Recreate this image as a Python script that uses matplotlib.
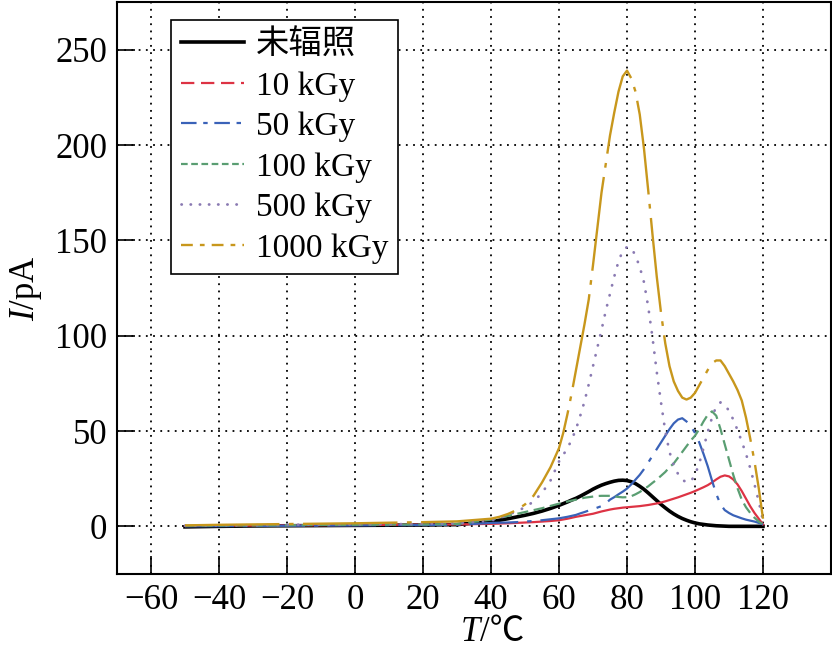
import matplotlib
matplotlib.use("Agg")
import matplotlib.pyplot as plt
from matplotlib.lines import Line2D

plt.rcParams['font.family'] = ['Liberation Serif', 'Noto Sans CJK SC', 'DejaVu Sans']
plt.rcParams['mathtext.fontset'] = 'custom'
plt.rcParams['mathtext.rm'] = 'Liberation Serif'
plt.rcParams['mathtext.it'] = 'Liberation Serif:italic'

# temperature points (deg C)
temps = [-50, -40, -30, -20, -10, 0, 10, 20, 30, 40, 42.5, 45, 47.5, 50, 52.5, 55, 57.5,
         60, 61.25, 62.5, 63.75, 65, 66.25, 67.5, 68.75, 70, 71.25, 72.5, 73.75,
         75, 76.25, 77.5, 78.75, 80, 81.25, 82.5, 83.75, 85, 86.25, 87.5, 88.75,
         90, 91.25, 92.5, 93.75, 95, 96.25, 97.5, 98.75, 100, 101.25, 102.5, 103.75,
         105, 106.25, 107.5, 108.75, 110, 111.25, 112.5, 113.75, 115, 116.25, 117.5, 118.75, 120]

# current (pA) for each dose
i_0 = [-0.3, 0, 0.2, 0.3, 0.4, 0.5, 0.6, 0.7, 0.9, 2.5, 3.2, 4, 4.9, 5.8, 6.8, 8, 9.4,
       11, 11.9, 12.8, 13.8, 14.7, 15.8, 17, 18.2, 19.5, 20.6, 21.6, 22.4,
       23.1, 23.7, 24.1, 24.2, 24, 23.4, 22.4, 21, 19.4, 17.5, 15.5, 13.5,
       11.5, 9.7, 8, 6.5, 5.2, 4.1, 3.2, 2.4, 1.8, 1.3, 1, 0.7,
       0.5, 0.3, 0.2, 0.1, 0, 0, 0, 0, 0, 0, 0, 0, 0]
i_10 = [0.2, 0.3, 0.4, 0.5, 0.6, 0.7, 0.8, 0.9, 1.0, 1.3, 1.45, 1.6, 1.8, 2, 2.2, 2.5, 2.8,
        3.2, 3.6, 4, 4.5, 5, 5.4, 5.8, 6.2, 6.6, 7.2, 7.8, 8.3,
        8.8, 9.2, 9.5, 9.8, 10, 10.2, 10.4, 10.6, 10.9, 11.2, 11.6, 12,
        12.5, 13.1, 13.8, 14.5, 15.2, 16, 16.8, 17.6, 18.5, 19.5, 20.5, 21.6,
        23, 24.6, 26, 26.7, 26.2, 24.6, 22, 18.5, 14.5, 10.5, 7, 4, 1]
i_50 = [0, 0.1, 0.2, 0.3, 0.4, 0.5, 0.6, 0.7, 0.8, 1.8, 1.9, 2, 2.2, 2.5, 2.8, 3.2, 3.7,
        4.2, 4.6, 5, 5.5, 6, 6.8, 7.5, 8.3, 9, 9.8, 10.6, 12,
        14, 15.3, 16.8, 18.2, 19.8, 22, 24.5, 27, 30, 33.5, 37, 40.5,
        44, 47.5, 51, 54, 56, 56.7, 55, 52.5, 49, 44, 38, 31.5,
        24, 17, 11.5, 8.5, 7, 5.8, 5, 4.2, 3.5, 3, 2.5, 1.8, 1]
i_100 = [0.3, 0.4, 0.5, 0.6, 0.7, 0.8, 0.9, 1.0, 1.2, 3.5, 4.5, 5.5, 6.5, 7.5, 8.5, 9.5, 10.7,
         11.9, 12.5, 13, 13.5, 14, 14.5, 15, 15.3, 15.6, 15.9, 16, 16,
         16, 15.7, 15.4, 15.2, 15.3, 15.8, 16.8, 18, 19.5, 21, 22.8, 24.5,
         26.5, 28.5, 31, 33, 36, 39, 42, 45, 47.5, 51, 55, 58.5,
         60.3, 58, 51, 43, 35, 27, 20, 14, 10, 7, 4.5, 2.5, 1]
i_500 = [0.3, 0.5, 0.6, 0.8, 0.9, 1.0, 1.1, 1.3, 1.5, 3, 4.3, 6, 7.8, 10, 13, 17.5, 24,
         34, 37.5, 41, 45.5, 51, 58, 65.5, 74.5, 84, 93.5, 103, 113,
         122, 131, 139, 144.5, 146.5, 146, 142, 136, 128, 115, 99, 81,
         65, 50, 39, 32, 27.5, 24.5, 23, 23.5, 27, 33, 41, 49.5,
         57, 63, 65, 64, 60.5, 56, 50.5, 44.5, 38, 30.5, 22, 13, 3]
i_1000 = [0.5, 0.8, 1.0, 1.2, 1.4, 1.6, 1.9, 2.2, 2.6, 4, 5, 6.5, 8.5, 11.5, 16, 23, 31,
          41, 49, 59, 70, 82, 94, 106, 119, 137, 156, 175, 190,
          205, 217, 228, 236, 239, 235, 228, 216, 198, 176, 153, 131,
          112, 96, 84, 76, 71, 67.5, 66.5, 67.5, 70, 74, 78, 82,
          85.5, 87, 87, 84, 80, 76, 71.5, 66, 57, 46, 34, 20, 4]

labels = ['未辐照', '10 kGy', '50 kGy', '100 kGy', '500 kGy', '1000 kGy']
series = [i_0, i_10, i_50, i_100, i_500, i_1000]
colors = ['#000000', '#dd3344', '#3a62b8', '#5a9e72', '#8a7ab2', '#c8971c']
widths = [2.6, 1.6, 1.6, 1.6, 2.0, 1.7]
# styles of the plotted curves
curve_styles = ['-', '-', (0, (22, 4, 2, 4)), (0, (5, 2.5)), (0, (0.1, 3.6)), (0, (40, 4, 2, 4))]
# styles shown in the legend
legend_styles = ['-', (0, (6, 3)), (0, (7, 3, 2, 3)), (0, (3, 1.6)), (0, (0.1, 3.2)), (0, (5, 3, 2, 3))]

fig = plt.figure(figsize=(8.32, 6.57), dpi=100)
ax = fig.add_axes([117 / 832, 83 / 657, 714 / 832, 572 / 657])

handles = []
for y, c, lw, ls, lls, lab in zip(series, colors, widths, curve_styles, legend_styles, labels):
    cap = 'round' if c == '#8a7ab2' else 'butt'
    ax.plot(temps, y, color=c, lw=lw, ls=ls, dash_capstyle=cap, solid_joinstyle='round', zorder=3)
    handles.append(Line2D([], [], color=c, lw=lw, ls=lls, dash_capstyle=cap, label=lab))

ax.set_xlim(-70, 140)
ax.set_ylim(-25, 275)
ax.set_xticks(range(-60, 121, 20))
ax.set_yticks(range(0, 251, 50))
ax.grid(True, color='black', ls=(0, (1, 3)), lw=1.3)
ax.tick_params(direction='in', length=13, width=1.2, labelsize=25, pad=7)
for s in ax.spines.values():
    s.set_linewidth(1.5)

# x label: italic T followed by /℃
ax.text(0.508, -0.103, 'T', transform=ax.transAxes, ha='right', va='center',
        fontsize=25, style='italic')
ax.text(0.508, -0.103, '/℃', transform=ax.transAxes, ha='left', va='center',
        fontsize=25)
ax.set_ylabel(r'$I$/pA', fontsize=25, labelpad=8)

leg = ax.legend(handles=handles, loc='upper left', bbox_to_anchor=(0.0756, 0.9685),
                borderaxespad=0, fontsize=24, frameon=True, fancybox=False,
                edgecolor='black', handlelength=1.9, handletextpad=0.35,
                labelspacing=0.3, borderpad=0.3)
leg.get_frame().set_linewidth(1.2)
leg.get_frame().set_alpha(1)

fig.savefig('out.png', dpi=100)
